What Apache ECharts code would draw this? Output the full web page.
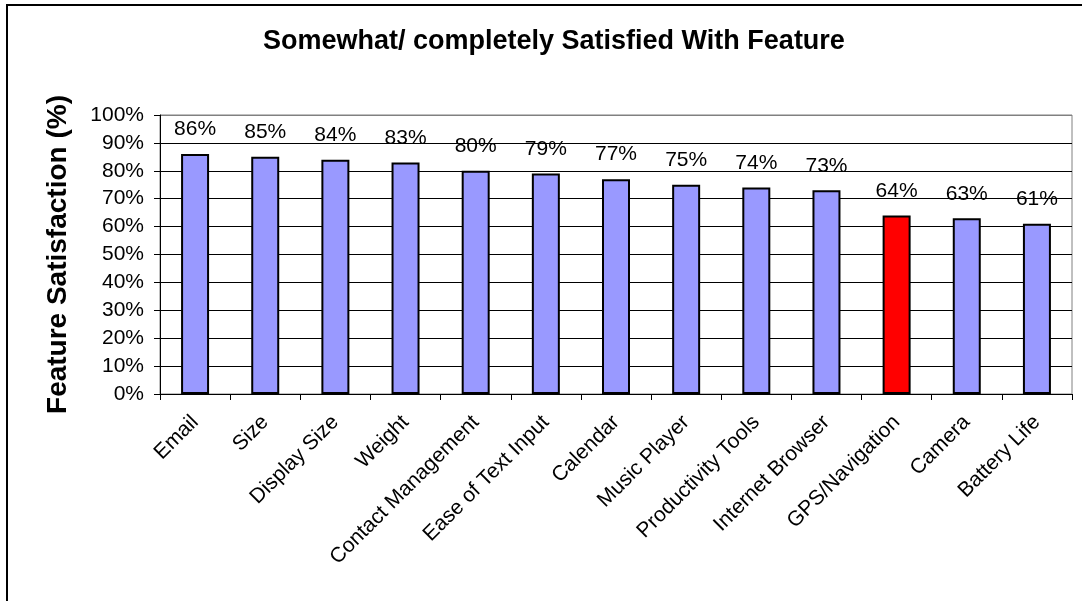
<!DOCTYPE html>
<html>
<head>
<meta charset="utf-8">
<script src="https://cdn.jsdelivr.net/npm/echarts@6/dist/echarts.min.js"></script>
<style>
html,body{margin:0;padding:0;background:#fff;}
#chart{width:1082px;height:601px;}
</style>
</head>
<body>
<div id="chart"></div>
<script>
const categories = ['Email','Size','Display Size','Weight','Contact Management','Ease of Text Input','Calendar','Music Player','Productivity Tools','Internet Browser','GPS/Navigation','Camera','Battery Life'];
const satisfaction = [86,85,84,83,80,79,77,75,74,73,64,63,61];
const highlighted = ['GPS/Navigation'];
const yTicks = [0,10,20,30,40,50,60,70,80,90,100];

const FONT = '"Liberation Sans", Arial, Helvetica, sans-serif';
const chart = echarts.init(document.getElementById('chart'), null, {renderer:'canvas'});
const splitColors = yTicks.map((t,i) => i === yTicks.length-1 ? '#808080' : '#000000');

chart.setOption({
  backgroundColor:'#ffffff',
  animation:false,
  graphic:[{type:'rect', shape:{x:7,y:5,width:1200,height:700}, style:{fill:'none', stroke:'#000', lineWidth:2}, z:100}],
  title:{
    text:'Somewhat/ completely Satisfied With Feature',
    left:258, top:23,
    textStyle:{fontFamily:FONT, fontSize:27, fontWeight:'bold', color:'#000'}
  },
  grid:{left:160, right:10, top:115, bottom:207, show:true, borderColor:'#808080', borderWidth:1, backgroundColor:'transparent'},
  xAxis:{
    type:'category', data:categories,
    axisLine:{lineStyle:{color:'#000', width:1}},
    axisTick:{show:true, interval:0, alignWithLabel:false, length:6, lineStyle:{color:'#000'}},
    axisLabel:{interval:0, rotate:45, margin:25, fontFamily:FONT, fontSize:21, color:'#000'}
  },
  yAxis:{
    type:'value', min:0, max:100, interval:10,
    name:'Feature Satisfaction (%)', nameLocation:'middle', nameGap:88,
    nameTextStyle:{fontFamily:FONT, fontSize:28, fontWeight:'bold', color:'#000'},
    axisLine:{show:true, lineStyle:{color:'#000', width:1}},
    axisTick:{show:true, length:6, lineStyle:{color:'#000'}},
    axisLabel:{formatter:'{value}%', margin:16, fontFamily:FONT, fontSize:21, color:'#000'},
    splitLine:{show:true, lineStyle:{color:splitColors, width:1}}
  },
  series:[{
    type:'bar',
    barWidth:28,
    data:satisfaction.map((v,i)=>({
      value:v,
      itemStyle:{color: highlighted.includes(categories[i]) ? '#ff0000' : '#9999ff', borderColor:'#000', borderWidth:2}
    })),
    label:{show:true, position:'top', distance:14, formatter:'{c}%', fontFamily:FONT, fontSize:21, color:'#000'}
  }]
});
</script>
</body>
</html>
